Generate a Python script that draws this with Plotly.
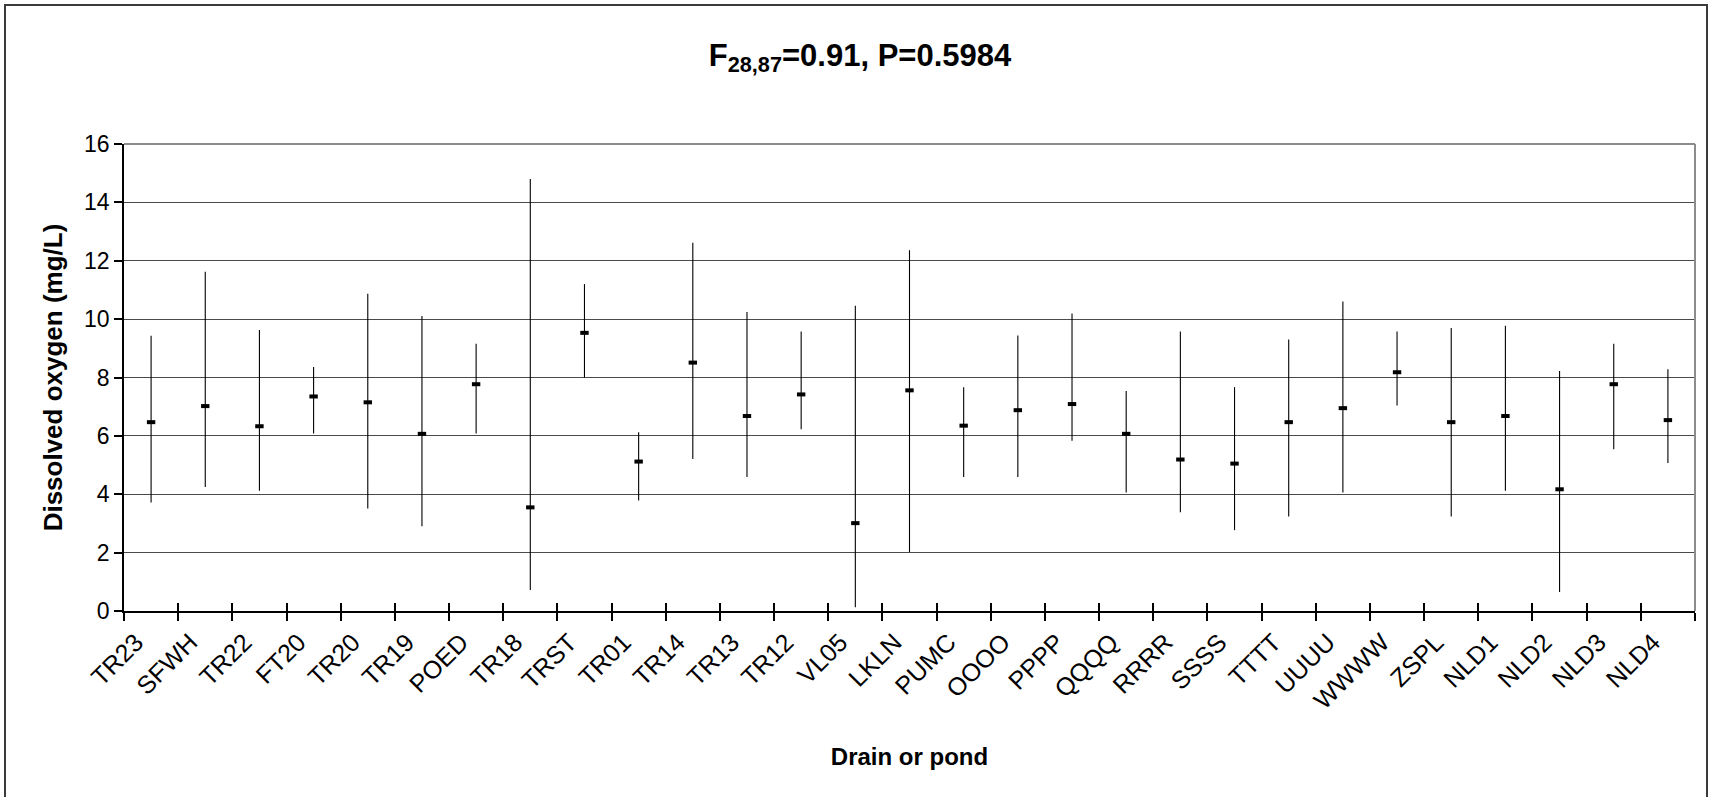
import plotly.graph_objects as go

# ---- data ----
sites = ["TR23", "SFWH", "TR22", "FT20", "TR20", "TR19", "POED", "TR18", "TRST",
         "TR01", "TR14", "TR13", "TR12", "VL05", "LKLN", "PUMC", "OOOO", "PPPP",
         "QQQQ", "RRRR", "SSSS", "TTTT", "UUUU", "WWWW", "ZSPL", "NLD1", "NLD2",
         "NLD3", "NLD4"]
means = [6.47, 7.02, 6.33, 7.35, 7.15, 6.07, 7.77, 3.55, 9.53,
         5.12, 8.51, 6.68, 7.42, 3.01, 7.56, 6.35, 6.88, 7.09,
         6.07, 5.19, 5.05, 6.47, 6.95, 8.18, 6.47, 6.68, 4.17,
         7.77, 6.54]
upper = [9.43, 11.62, 9.63, 8.36, 10.87, 10.11, 9.16, 14.80, 11.20,
         6.12, 12.62, 10.24, 9.58, 10.46, 12.36, 7.67, 9.44, 10.19,
         7.54, 9.58, 7.67, 9.30, 10.60, 9.58, 9.70, 9.77, 8.22,
         9.16, 8.28]
lower = [3.72, 4.25, 4.12, 6.08, 3.51, 2.90, 6.08, 0.72, 8.00,
         3.79, 5.21, 4.59, 6.23, 0.13, 2.02, 4.59, 4.59, 5.83,
         4.06, 3.38, 2.77, 3.24, 4.06, 7.04, 3.24, 4.12, 0.65,
         5.54, 5.07]
y_ticks = [0, 2, 4, 6, 8, 10, 12, 14, 16]

title_text = "<b>F<sub>28,87</sub>=0.91, P=0.5984</b>"
x_title = "<b>Drain or pond</b>"
y_title = "<b>Dissolved oxygen (mg/L)</b>"

# ---- layout constants ----
W, H = 1709, 797
L, R, T, B = 124, 14, 144, 186
PW, PH = W - L - R, H - T - B
FONT = "Arial, Liberation Sans, sans-serif"

err_plus = [u - m for u, m in zip(upper, means)]
err_minus = [m - l for m, l in zip(means, lower)]

fig = go.Figure()
fig.add_trace(go.Scatter(
    x=sites, y=means, mode="markers",
    marker=dict(symbol="line-ew", size=6, color="black",
                line=dict(width=4, color="black")),
    error_y=dict(type="data", symmetric=False, array=err_plus,
                 arrayminus=err_minus, width=0, thickness=1.1, color="black"),
    showlegend=False, hoverinfo="x+y",
))
# invisible trace on overlay axis for cross tick marks
fig.add_trace(go.Scatter(
    x=sites, y=means, mode="markers", xaxis="x2",
    marker=dict(opacity=0), showlegend=False, hoverinfo="skip",
))


def px_x(p):
    return (p - L) / PW


def px_y(p):
    return (H - B - p) / PH


shapes = [
    dict(type="rect", xref="paper", yref="paper",
         x0=px_x(5), x1=px_x(1707), y0=px_y(805), y1=px_y(5),
         line=dict(color="#3a3a3a", width=2), fillcolor="rgba(0,0,0,0)", layer="below"),
    dict(type="line", xref="paper", yref="paper", x0=0, x1=1, y0=1, y1=1,
         line=dict(color="#8c8c8c", width=2)),
    dict(type="line", xref="paper", yref="paper", x0=1, x1=1, y0=0, y1=1,
         line=dict(color="#8c8c8c", width=2)),
]

fig.update_layout(
    width=W, height=H,
    margin=dict(l=L, r=R, t=T, b=B, autoexpand=False),
    paper_bgcolor="white", plot_bgcolor="white",
    font=dict(family=FONT, size=23, color="black"),
    title=dict(text=title_text, x=(860 - L) / PW, xref="paper", xanchor="center",
               y=1 - 55 / H, yref="container", yanchor="middle",
               font=dict(family=FONT, size=31, color="black")),
    shapes=shapes,
    xaxis=dict(
        type="category", categoryorder="array", categoryarray=sites,
        range=[-0.5, len(sites) - 0.5], tickson="boundaries",
        ticks="outside", ticklen=8, tickwidth=1.5, tickcolor="black",
        tickangle=-45, tickfont=dict(family=FONT, size=25),
        ticklabelshift=-15, ticklabelstandoff=5,
        showline=True, linecolor="black", linewidth=1.5,
        showgrid=False, zeroline=False,
        title=dict(text=x_title, font=dict(family=FONT, size=24), standoff=35),
    ),
    xaxis2=dict(
        type="category", categoryorder="array", categoryarray=sites,
        range=[-0.5, len(sites) - 0.5], tickson="boundaries",
        overlaying="x", anchor="y", side="bottom",
        ticks="inside", ticklen=8, tickwidth=1.5, tickcolor="black",
        showticklabels=False, showgrid=False, zeroline=False, showline=False,
    ),
    yaxis=dict(
        range=[0, 16], tickvals=y_ticks, ticks="outside", ticklen=8,
        tickwidth=1.5, tickcolor="black", tickfont=dict(family=FONT, size=23),
        showline=True, linecolor="black", linewidth=1.5,
        showgrid=True, gridcolor="#4a4a4a", gridwidth=1.3, zeroline=False,
        title=dict(text=y_title, font=dict(family=FONT, size=26), standoff=14),
    ),
)

fig.write_html("out.html")
